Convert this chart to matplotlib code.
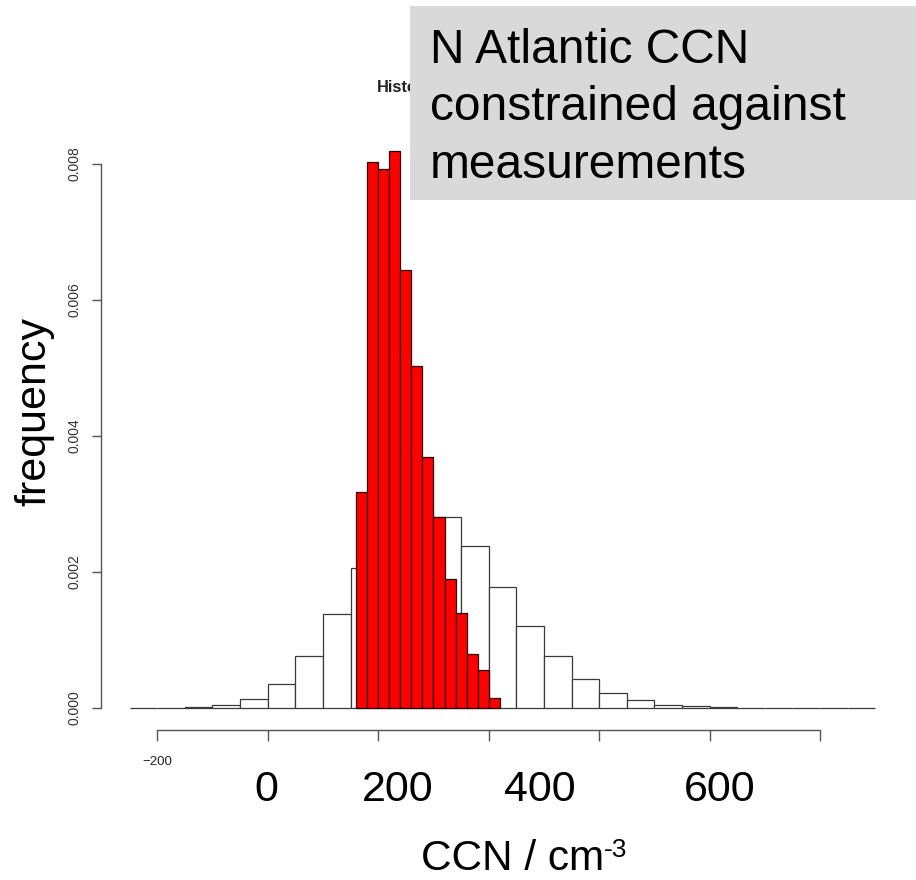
import matplotlib
matplotlib.use("Agg")
import matplotlib.pyplot as plt
from matplotlib.patches import Rectangle

plt.rcParams['font.family'] = ['Liberation Sans', 'DejaVu Sans']
plt.rcParams['mathtext.default'] = 'regular'

W, H, DPI = 916, 880, 100

# ---- data: prior (white) histogram, bin width 50 ----
prior_left = [-250, -200, -150, -100, -50, 0, 50, 100, 150, 200, 250, 300, 350,
              400, 450, 500, 550, 600, 650, 700, 750, 800, 850, 900, 950, 1000, 1050]
prior_density = [0, 0, 0.000015, 0.00005, 0.00013, 0.00035, 0.00076, 0.00138,
                 0.00206, 0.0026, 0.0029, 0.00281, 0.00238, 0.00178, 0.00121,
                 0.00076, 0.00043, 0.00022, 0.00011, 0.00005, 0.000025, 0.00001,
                 0, 0, 0, 0, 0]
prior_width = 50

# ---- data: constrained (red) histogram, bin width 20 ----
constr_left = [160, 180, 200, 220, 240, 260, 280, 300, 320, 340, 360, 380, 400]
constr_density = [0.00318, 0.00803, 0.00793, 0.00819, 0.00644, 0.00503, 0.00369,
                  0.00281, 0.00190, 0.00140, 0.00079, 0.00056, 0.00015]
constr_width = 20

y_ticks = [0.0, 0.002, 0.004, 0.006, 0.008]
y_ticklabels = ['0.000', '0.002', '0.004', '0.006', '0.008']
x_ticks = [-200, 0, 200, 400, 600, 800, 1000]
x_ticklabels = ['\u2212200', '', '', '', '', '', '']
big_labels = ['0', '200', '400', '600']
title_text = 'Histo'
box_lines = ['N Atlantic CCN', 'constrained against', 'measurements']

fig = plt.figure(figsize=(W / DPI, H / DPI), dpi=DPI)
fig.patch.set_facecolor('white')

def fx(px):
    return px / W

def fy(py):
    return 1 - py / H

ax = fig.add_axes([fx(100.5), fy(730), fx(900) - fx(100.5), fy(140) - fy(730)])
ax.set_xlim(-302.6, 1144.4)
ax.set_ylim(-0.000324, 0.00835)

ax.bar(prior_left, prior_density, width=prior_width, align='edge',
       facecolor='white', edgecolor='#3a3a3a', linewidth=0.9, zorder=2)
ax.bar(constr_left, constr_density, width=constr_width, align='edge',
       facecolor='#ff0000', edgecolor='#2a0000', linewidth=0.9, zorder=3)

for s in ['top', 'right']:
    ax.spines[s].set_visible(False)
ax.spines['left'].set_bounds(0, 0.008)
ax.spines['bottom'].set_bounds(-200, 1000)
for s in ['left', 'bottom']:
    ax.spines[s].set_color('#555555')
    ax.spines[s].set_linewidth(1.0)

ax.set_yticks(y_ticks)
ax.set_yticklabels(y_ticklabels, rotation=90, va='center', fontsize=10, color='#333333')
ax.set_xticks(x_ticks)
ax.set_xticklabels(x_ticklabels, fontsize=9.5, color='#222222')
ax.tick_params(axis='y', length=6.5, width=1.0, color='#555555', pad=7)
ax.tick_params(axis='x', length=8, width=1.0, color='#555555', pad=11)
ax.set_facecolor('white')

# big overlay tick labels
big_label_px = [266.7, 397.7, 540, 720]
for lab, px in zip(big_labels, big_label_px):
    fig.text(fx(px), fy(801), lab, ha='center', va='baseline', fontsize=31, color='black')

# axis title with a small hyphen superscript
fig.text(fx(604), fy(870), 'CCN / cm', ha='right', va='baseline',
         fontsize=30.5, color='black')
fig.text(fx(604), fy(857), '-3', ha='left', va='baseline',
         fontsize=19, color='black')
fig.text(fx(34), fy(411), 'frequency', rotation=90, ha='center', va='center',
         fontsize=31, color='black')

# R title, partly hidden under the grey box
fig.text(fx(377), fy(92), title_text, ha='left', va='baseline', fontsize=11.8,
         fontweight='bold', color='#222222', zorder=1)

box = Rectangle((fx(410), fy(200)), fx(916) - fx(410) + 0.01, fy(6) - fy(200),
                transform=fig.transFigure, facecolor='#d9d9d9', edgecolor='none',
                zorder=5)
fig.patches.append(box)
for line, base in zip(box_lines, [63, 120, 178]):
    fig.text(fx(430), fy(base), line, ha='left', va='baseline', fontsize=34.5,
             color='black', zorder=6)

fig.savefig('out.png', dpi=DPI, facecolor='white')
